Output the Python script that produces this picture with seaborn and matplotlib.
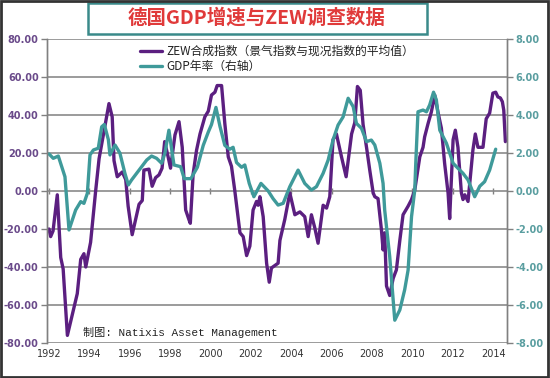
import matplotlib
matplotlib.use("Agg")
import matplotlib.pyplot as plt
import seaborn as sns
from matplotlib.patches import Rectangle
from matplotlib.ticker import FormatStrFormatter, MultipleLocator

# ZEW composite index (left axis) as (year, value)
zew_dates = [1992.0, 1992.08, 1992.2, 1992.41, 1992.58, 1992.7, 1992.91, 1993.4, 1993.57, 1993.73,
             1993.82, 1994.06, 1994.31, 1994.48, 1994.8, 1994.97, 1995.13, 1995.22, 1995.38, 1995.63,
             1995.8, 1995.92, 1996.12, 1996.46, 1996.62, 1996.7, 1996.95, 1997.11, 1997.28, 1997.45,
             1997.6, 1997.73, 1997.9, 1998.02, 1998.24, 1998.44, 1998.6, 1998.77, 1998.93, 1999.0,
             1999.14, 1999.31, 1999.48, 1999.72, 1999.89, 2000.05, 2000.22, 2000.33, 2000.55, 2000.71,
             2000.88, 2001.04, 2001.2, 2001.46, 2001.62, 2001.79, 2001.95, 2002.11, 2002.28, 2002.36,
             2002.45, 2002.61, 2002.78, 2002.91, 2003.02, 2003.35, 2003.44, 2003.68, 2003.93, 2004.18,
             2004.43, 2004.67, 2004.84, 2005.0, 2005.17, 2005.33, 2005.58, 2005.75, 2005.91, 2006.07,
             2006.24, 2006.49, 2006.72, 2006.99, 2007.15, 2007.28, 2007.42, 2007.56, 2007.73, 2007.89,
             2008.06, 2008.14, 2008.3, 2008.47, 2008.55, 2008.63, 2008.72, 2008.88, 2009.05, 2009.21,
             2009.38, 2009.54, 2009.79, 2009.96, 2010.12, 2010.2, 2010.37, 2010.53, 2010.61, 2010.78,
             2010.94, 2011.11, 2011.27, 2011.44, 2011.6, 2011.77, 2011.85, 2012.02, 2012.13, 2012.26,
             2012.43, 2012.51, 2012.6, 2012.76, 2013.0, 2013.12, 2013.25, 2013.5, 2013.66, 2013.83,
             2013.99, 2014.13, 2014.24, 2014.36, 2014.46, 2014.53, 2014.61]
zew_values = [-20, -24, -21, -2, -35, -41, -76, -54, -36, -33,
              -40, -27, 0, 17, 36, 46, 39, 16, 7.5, 10,
              6, -8, -23, -7, -5, 11, 11.5, 2.5, 7, 8.5,
              12, 26, 18, 12, 29.5, 36.5, 23, -10, -15, -17,
              9, 21.5, 30, 39, 42, 50.5, 52, 55.5, 55.5, 35.5,
              18, 13, 0.5, -22, -24, -34, -29, -10, -5.5, -7.5,
              -3, -13.5, -38, -48, -40.5, -38, -26, -15, -1, -12.5,
              -11, -13.5, -24, -12.5, -19.5, -27.5, -7.5, -9, -3, 27,
              30, 18, 7.5, 30, 36, 55, 53, 35, 23, 11,
              -1, -3, -4, -20.5, -31, -22, -50, -55, -46, -41.5,
              -26, -12.5, -8, -4.5, 0.5, 6, 18, 23, 28.5, 35.5,
              41.5, 50.5, 41.5, 33, 14.5, -1, -14.5, 27, 32, 23,
              -1, -4.5, -2, -5.5, 21.5, 30, 23, 23, 38, 41,
              51.5, 52, 49.5, 49, 47, 42.5, 26]

# German GDP y/y (right axis)
gdp_dates = [1992.0, 1992.21, 1992.46, 1992.79, 1992.99, 1993.32, 1993.57, 1993.73, 1993.9, 1994.03,
             1994.2, 1994.44, 1994.61, 1994.74, 1994.94, 1995.02, 1995.27, 1995.51, 1995.76, 1995.93,
             1996.09, 1996.34, 1996.59, 1996.84, 1997.08, 1997.33, 1997.58, 1997.74, 1997.94, 1998.19,
             1998.52, 1998.7, 1999.03, 1999.35, 1999.64, 1999.89, 2000.05, 2000.27, 2000.47, 2000.71,
             2000.96, 2001.12, 2001.29, 2001.54, 2001.7, 2001.92, 2002.15, 2002.5, 2002.86, 2003.1,
             2003.35, 2003.6, 2003.93, 2004.34, 2004.67, 2005.0, 2005.25, 2005.58, 2005.83, 2006.07,
             2006.32, 2006.57, 2006.82, 2007.07, 2007.23, 2007.48, 2007.73, 2007.97, 2008.14, 2008.39,
             2008.55, 2008.63, 2008.88, 2009.13, 2009.38, 2009.62, 2009.79, 2009.96, 2010.12, 2010.17,
             2010.28, 2010.53, 2010.7, 2010.86, 2011.05, 2011.19, 2011.36, 2011.69, 2012.02, 2012.35,
             2012.51, 2012.76, 2013.09, 2013.34, 2013.58, 2013.83, 2014.13]
gdp_values = [1.95, 1.72, 1.84, 0.75, -2.05, -1.0, -0.56, -0.65, -0.12, 1.9,
              2.16, 2.25, 3.38, 3.5, 2.7, 1.9, 2.42, 2.0, 0.93, 0.32,
              0.58, 0.93, 1.28, 1.63, 1.84, 1.72, 1.46, 1.98, 3.2, 1.37,
              1.28, 0.65, 0.65, 1.25, 2.4, 3.1, 3.5, 4.4, 3.4, 2.4,
              2.2, 2.3, 1.5, 1.25, 1.37, 0.4, -0.3, 0.4, 0.0, -0.4,
              -0.74, -0.65, 0.23, 1.1, 0.4, 0.05, 0.23, 0.93, 1.63, 2.68,
              3.47, 3.9, 4.88, 4.44, 3.56, 3.3, 2.6, 2.68, 2.42, 1.46,
              0.4, -1.0, -3.46, -6.8, -6.26, -5.2, -4.16, -1.35, 0.05, 1.46,
              4.17, 4.26, 4.17, 4.53, 5.2, 4.79, 3.2, 2.51, 1.46, 1.1,
              0.93, 0.58, -0.3, 0.25, 0.49, 1.1, 2.2]

year_ticks = list(range(1992, 2015, 2))

title = "德国GDP增速与ZEW调查数据"
zew_label = "ZEW合成指数（景气指数与现况指数的平均值）"
gdp_label = "GDP年率（右轴）"
source = "制图: Natixis Asset Management"

purple = "#5b1f80"
teal = "#3f9a9a"

sns.set_style("white")
plt.rcParams["font.family"] = ["DejaVu Sans", "Noto Sans CJK SC"]

fig = plt.figure(figsize=(5.5, 3.78), dpi=100)
ax = fig.add_axes([47 / 550, 1 - 343 / 378, 460 / 550, 304 / 378])
ax2 = ax.twinx()

sns.lineplot(x=zew_dates, y=zew_values, ax=ax, color=purple, lw=2.4, estimator=None,
             label=zew_label, legend=False)
sns.lineplot(x=gdp_dates, y=gdp_values, ax=ax2, color=teal, lw=2.4, estimator=None,
             label=gdp_label, legend=False)

ax.set_xlim(1991.9, 2014.69)
ax.set_ylim(-80, 80)
ax2.set_ylim(-8, 8)
ax.yaxis.set_major_locator(MultipleLocator(20))
ax2.yaxis.set_major_locator(MultipleLocator(2))
ax.yaxis.set_major_formatter(FormatStrFormatter("%.2f"))
ax2.yaxis.set_major_formatter(FormatStrFormatter("%.2f"))
ax.set_xticks(year_ticks)
ax.set_xticklabels([str(y) for y in year_ticks])
ax.grid(axis="y", color="#8a8a8a", lw=1.2)
ax.grid(axis="x", visible=False)
ax.set_axisbelow(True)

for a in (ax, ax2):
    for side in ("top", "bottom"):
        a.spines[side].set_visible(False)
    for side in ("left", "right"):
        a.spines[side].set_color("#808080")
        a.spines[side].set_linewidth(1.0)

ax.tick_params(axis="x", length=0, pad=4, labelsize=7, labelcolor="#333333")
ax.tick_params(axis="y", length=4, width=1, color="#808080", pad=2, labelsize=7,
               labelcolor="#6a4a8a")
ax2.tick_params(axis="y", length=4, width=1, color="#808080", pad=2, labelsize=7,
                labelcolor="#5a9ea0")
for lab in ax.get_yticklabels() + ax2.get_yticklabels():
    lab.set_fontweight("bold")

# small year ticks sitting on the zero line
zero_axis = ax.secondary_xaxis(0.5)
zero_axis.set_xticks(year_ticks)
zero_axis.tick_params(direction="inout", length=5, width=1, color="#808080", labelbottom=False,
                      labeltop=False)
zero_axis.set_xticklabels([])
zero_axis.spines["bottom"].set_visible(False)
zero_axis.spines["top"].set_visible(False)

handles = ax.get_lines()[:1] + ax2.get_lines()[:1]
leg = ax.legend(handles, [zew_label, gdp_label], loc="upper left",
                bbox_to_anchor=((140 - 47) / 460, 1 - (45 - 39) / 304), frameon=False,
                fontsize=8.5, handlelength=1.9, handletextpad=0.3, labelspacing=0.15,
                borderpad=0, borderaxespad=0)
for t in leg.get_texts():
    t.set_family(["Noto Sans CJK SC"])
    t.set_color("#222222")

ax.text((83 - 47) / 460, 1 - (332 - 39) / 304, source, transform=ax.transAxes,
        ha="left", va="center", fontsize=8, color="#222222",
        family=["Liberation Mono", "Noto Sans CJK SC"])

# title box
fig.patches.append(Rectangle((88 / 550, 1 - 34 / 378), 339 / 550, 31 / 378,
                             transform=fig.transFigure, facecolor="white",
                             edgecolor="#3a8a8a", lw=1.8, zorder=5))
fig.text(257 / 550, 1 - 18 / 378, title, ha="center", va="center", fontsize=14,
         fontweight="bold", color="#e03a3a", family=["Noto Sans CJK SC"], zorder=6)

# outer frame
fig.patches.append(Rectangle((0.001, 0.002), 0.996, 0.995, transform=fig.transFigure,
                             facecolor="none", edgecolor="#333333", lw=2, zorder=10))

fig.savefig("out.png", dpi=100)
